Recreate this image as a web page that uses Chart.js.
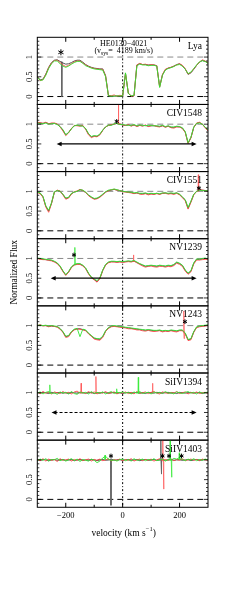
<!DOCTYPE html>
<html>
<head>
<meta charset="utf-8">
<script src="https://cdn.jsdelivr.net/npm/chart.js"></script>
<style>
  body { margin: 0; background: #fff; }
  #wrap { position: relative; width: 245px; height: 611px; }
  #wrap canvas { position: absolute; left: 0; top: 0; }
</style>
</head>
<body>
<div id="wrap"></div>
<script>
// velocity grid (km/s), shared by every panel
const velocity = [
  -300,-290,-280,-270,-260,-250,-240,-230,-220,-210,
  -200,-190,-180,-170,-160,-150,-140,-130,-120,-110,
  -100,-90,-80,-70,-60,-50,-40,-30,-20,-10,
  0,10,20,30,40,50,60,70,80,90,
  100,110,120,130,140,150,160,170,180,190,
  200,210,220,230,240,250,260,270,280,290,
  300];

const lyaRed = [
  0.50,0.40,0.43,0.56,0.73,0.85,0.91,0.92,0.86,0.80,
  0.76,0.79,0.83,0.88,0.90,0.90,0.85,0.80,0.76,0.73,
  0.71,0.70,0.69,0.69,0.52,0.03,0.02,0.04,0.01,0.03,
  0.02,0.58,0.09,0.01,0.02,0.80,0.84,0.81,0.82,0.79,
  0.81,0.80,0.78,0.24,0.56,0.69,0.72,0.74,0.77,0.80,
  0.83,0.79,0.70,0.57,0.61,0.70,0.79,0.87,0.93,0.90,
  0.85];
const lyaGreen = [
  0.49,0.41,0.42,0.54,0.71,0.83,0.90,0.90,0.83,0.77,
  0.74,0.77,0.82,0.86,0.89,0.89,0.84,0.78,0.75,0.72,
  0.70,0.69,0.68,0.67,0.50,0.02,0.01,0.01,0.02,0.01,
  0.02,0.60,0.08,0.02,0.03,0.78,0.82,0.80,0.80,0.78,
  0.79,0.79,0.77,0.23,0.54,0.67,0.71,0.73,0.76,0.80,
  0.81,0.77,0.69,0.58,0.62,0.71,0.80,0.88,0.91,0.89,
  0.84];
const lyaBlack = [
  0.51,0.42,0.44,0.57,0.74,0.86,0.92,0.93,0.89,0.85,
  0.82,0.83,0.86,0.90,0.92,0.92,0.87,0.81,0.77,0.74,
  0.72,0.71,0.70,0.70,0.53,0.02,0.01,0.01,0.01,0.01,
  0.01,0.59,0.08,0.01,0.02,0.80,0.83,0.81,0.81,0.80,
  0.80,0.80,0.78,0.25,0.55,0.68,0.72,0.74,0.77,0.81,
  0.83,0.78,0.70,0.56,0.60,0.69,0.79,0.87,0.91,0.89,
  0.85];

const civ1548Red = [
  1.05,1.04,1.02,1.05,1.01,1.03,1.03,1.01,0.93,0.83,
  0.71,0.78,0.89,0.97,0.96,0.95,0.97,0.87,0.73,0.66,
  0.69,0.68,0.73,0.84,0.93,0.97,0.99,1.00,1.03,1.01,
  0.98,0.97,0.99,0.95,0.98,0.94,0.97,0.95,0.98,0.94,
  0.96,0.97,0.94,0.93,0.96,0.92,0.95,0.91,0.90,0.93,
  0.93,0.89,0.79,0.51,0.65,0.92,1.03,1.05,1.00,0.91,
  0.83];
const civ1548Green = [
  1.03,1.02,1.01,1.03,1.00,1.01,1.02,0.99,0.94,0.86,
  0.73,0.79,0.88,0.96,0.98,0.96,0.95,0.89,0.76,0.69,
  0.71,0.70,0.75,0.85,0.93,0.98,0.97,1.01,1.02,0.99,
  0.99,0.98,0.97,0.97,0.99,0.96,0.98,0.97,0.96,0.97,
  0.97,0.96,0.96,0.95,0.97,0.94,0.96,0.93,0.93,0.95,
  0.94,0.91,0.81,0.53,0.67,0.93,1.02,1.03,1.00,0.93,
  0.85];
const civ1548Black = [
  1.04,1.03,1.02,1.04,1.01,1.02,1.02,1.00,0.94,0.85,
  0.73,0.79,0.89,0.96,0.97,0.96,0.96,0.88,0.75,0.68,
  0.70,0.69,0.74,0.85,0.93,0.97,0.98,1.00,1.02,1.00,
  0.98,0.97,0.98,0.96,0.98,0.95,0.97,0.96,0.97,0.95,
  0.96,0.96,0.95,0.94,0.96,0.93,0.95,0.92,0.92,0.94,
  0.93,0.90,0.80,0.52,0.66,0.92,1.02,1.04,1.00,0.92,
  0.84];

const civ1551Red = [
  0.97,0.94,0.85,0.60,0.47,0.69,0.97,1.03,1.01,0.91,
  0.80,0.83,0.93,0.99,1.01,1.05,1.02,0.97,0.89,0.84,
  0.80,0.81,0.85,0.91,0.98,1.01,1.04,1.05,1.03,1.02,
  0.99,0.98,0.97,0.96,0.94,0.96,0.93,0.92,0.94,0.91,
  0.93,0.92,0.94,0.92,0.95,0.95,0.93,0.94,0.92,0.95,
  0.91,0.84,0.76,0.55,0.72,0.91,1.00,1.05,1.03,1.02,
  1.00];
const civ1551Green = [
  0.98,0.96,0.87,0.63,0.52,0.71,0.99,1.02,1.00,0.93,
  0.83,0.85,0.95,0.98,1.00,1.04,1.03,0.98,0.91,0.86,
  0.82,0.83,0.87,0.93,0.99,1.03,1.04,1.06,1.04,1.02,
  1.00,0.99,0.98,0.98,0.96,0.97,0.95,0.95,0.96,0.94,
  0.95,0.94,0.95,0.94,0.96,0.96,0.95,0.96,0.95,0.96,
  0.93,0.86,0.79,0.59,0.75,0.93,1.00,1.03,1.02,1.02,
  1.01];
const civ1551Black = [
  0.98,0.95,0.86,0.62,0.50,0.70,0.98,1.02,1.00,0.92,
  0.82,0.84,0.94,0.98,1.00,1.04,1.02,0.97,0.90,0.85,
  0.81,0.82,0.86,0.92,0.98,1.02,1.03,1.05,1.03,1.02,
  1.00,0.99,0.98,0.97,0.95,0.96,0.94,0.94,0.95,0.93,
  0.94,0.93,0.95,0.93,0.95,0.96,0.94,0.95,0.94,0.96,
  0.92,0.85,0.78,0.57,0.74,0.92,1.00,1.04,1.03,1.02,
  1.01];

const nv1239Red = [
  1.00,0.98,0.97,0.97,0.95,0.94,0.91,0.87,0.79,0.67,
  0.57,0.65,0.77,0.83,0.85,0.85,0.81,0.74,0.61,0.51,
  0.46,0.40,0.49,0.69,0.83,0.89,0.91,0.91,0.90,0.91,
  0.90,0.91,0.92,0.91,0.93,0.89,0.85,0.81,0.78,0.80,
  0.81,0.79,0.78,0.80,0.80,0.78,0.80,0.79,0.82,0.88,
  0.85,0.80,0.68,0.60,0.66,0.86,0.96,0.96,0.97,0.98,
  0.97];
const nv1239Green = [
  1.01,1.00,0.99,0.98,0.97,0.96,0.93,0.89,0.81,0.69,
  0.59,0.67,0.79,0.85,0.87,0.87,0.83,0.76,0.63,0.53,
  0.48,0.44,0.51,0.71,0.85,0.91,0.93,0.93,0.92,0.93,
  0.92,0.93,0.94,0.93,0.95,0.91,0.87,0.84,0.81,0.82,
  0.83,0.82,0.81,0.83,0.82,0.81,0.83,0.82,0.85,0.91,
  0.88,0.83,0.71,0.63,0.69,0.89,0.99,0.98,1.00,1.01,
  0.99];
const nv1239Black = [
  1.00,0.99,0.98,0.97,0.96,0.95,0.92,0.88,0.80,0.68,
  0.58,0.66,0.78,0.84,0.86,0.86,0.82,0.75,0.62,0.52,
  0.47,0.41,0.50,0.70,0.84,0.90,0.92,0.92,0.91,0.92,
  0.91,0.92,0.93,0.92,0.94,0.90,0.86,0.83,0.80,0.81,
  0.82,0.81,0.80,0.82,0.81,0.80,0.82,0.81,0.84,0.90,
  0.87,0.82,0.70,0.62,0.68,0.88,0.98,0.97,0.99,1.00,
  0.98];

const nv1243Red = [
  1.00,1.02,0.99,1.00,0.97,0.99,0.98,0.96,0.91,0.83,
  0.70,0.72,0.83,0.89,0.91,0.91,0.89,0.87,0.79,0.73,
  0.66,0.64,0.63,0.70,0.85,0.93,0.97,0.98,0.97,0.96,
  0.95,0.94,0.92,0.92,0.91,0.89,0.89,0.87,0.86,0.88,
  0.86,0.85,0.86,0.87,0.84,0.86,0.85,0.87,0.85,0.84,
  0.87,0.87,0.79,0.62,0.64,0.83,0.95,0.97,0.98,0.99,
  1.00];
const nv1243Green = [
  1.01,1.01,1.00,1.01,0.99,1.00,0.99,0.98,0.93,0.85,
  0.73,0.75,0.85,0.91,0.93,0.72,0.91,0.89,0.81,0.75,
  0.69,0.67,0.67,0.73,0.87,0.95,0.99,1.00,0.99,0.98,
  0.97,0.96,0.95,0.94,0.93,0.92,0.91,0.90,0.89,0.90,
  0.89,0.88,0.88,0.89,0.87,0.88,0.87,0.89,0.88,0.87,
  0.89,0.89,0.81,0.65,0.67,0.85,0.97,0.99,1.00,1.01,
  1.02];
const nv1243Black = [
  1.00,1.01,1.00,1.00,0.98,0.99,0.98,0.97,0.92,0.84,
  0.72,0.74,0.84,0.90,0.92,0.92,0.90,0.88,0.80,0.74,
  0.68,0.66,0.65,0.72,0.86,0.94,0.98,0.99,0.98,0.97,
  0.96,0.95,0.94,0.93,0.92,0.91,0.90,0.89,0.88,0.89,
  0.88,0.87,0.87,0.88,0.86,0.87,0.86,0.88,0.87,0.86,
  0.88,0.88,0.80,0.64,0.66,0.84,0.96,0.98,0.99,1.00,
  1.01];

const siiv1394Red = [
  1.02,0.98,1.03,0.99,1.01,0.97,1.02,1.00,0.98,1.03,
  0.99,1.01,0.97,1.02,1.04,0.99,1.01,0.98,1.03,0.99,
  1.02,0.97,1.01,0.99,1.03,0.98,1.00,1.02,0.97,1.01,
  0.99,1.02,0.98,1.01,0.97,1.03,0.99,1.00,1.02,0.98,
  1.01,1.03,0.99,0.97,1.02,1.00,0.98,1.01,0.99,1.03,
  0.98,1.00,1.02,0.97,1.01,0.99,1.02,0.98,1.00,1.01,
  0.99];
const siiv1394Green = [
  0.99,1.02,0.97,1.01,1.03,0.98,1.00,0.96,1.02,0.99,
  1.01,0.97,1.03,0.98,0.96,1.02,0.99,1.01,0.97,1.03,
  0.98,1.01,0.99,1.02,0.97,1.00,1.03,0.98,1.01,1.00,
  1.02,0.99,1.01,0.97,1.02,0.99,1.03,0.98,1.00,1.01,
  0.97,1.02,0.99,1.01,0.98,1.03,0.99,1.00,0.97,1.02,
  1.00,0.98,1.01,1.03,0.99,1.01,0.97,1.02,0.99,1.00,
  1.02];
const siiv1394Black = [
  1.00,0.99,1.01,1.00,0.98,1.01,0.99,1.00,1.01,0.99,
  1.00,0.98,1.01,1.00,0.99,1.01,1.00,0.99,1.00,1.01,
  0.98,1.00,0.99,1.01,1.00,0.99,1.00,1.01,0.99,1.00,
  0.98,1.00,1.01,0.99,1.00,1.01,0.99,1.00,0.98,1.01,
  1.00,0.99,1.01,1.00,0.99,1.00,1.01,0.99,1.00,0.98,
  1.01,1.00,0.99,1.00,1.01,0.99,1.00,1.01,0.98,1.00,
  0.99];

const siiv1403Red = [
  1.01,0.98,1.03,0.97,1.02,0.99,1.01,0.96,1.03,0.99,
  1.00,1.02,0.97,1.01,0.99,1.03,0.98,1.00,1.02,0.97,
  1.01,0.99,1.02,0.98,1.00,1.03,0.97,1.01,0.99,1.02,
  0.98,1.01,0.99,1.03,0.97,1.00,1.02,0.98,1.01,0.99,
  1.02,0.97,1.00,1.03,0.98,1.01,0.99,1.02,0.98,1.01,
  0.99,1.03,0.98,1.00,1.02,0.99,1.01,0.98,1.02,1.00,
  0.99];
const siiv1403Green = [
  0.98,1.02,0.99,1.03,0.97,1.01,1.00,1.04,0.98,1.01,
  0.97,1.00,1.03,0.98,1.02,0.96,1.01,0.99,0.97,1.02,
  0.99,0.93,0.97,1.05,1.09,1.02,0.98,1.00,0.97,1.01,
  1.02,0.98,1.01,0.97,1.03,0.99,1.00,1.02,0.98,1.01,
  0.99,1.03,0.98,1.00,1.02,0.97,1.01,0.99,1.04,1.02,
  1.06,1.01,0.98,1.02,0.99,1.03,0.98,1.01,0.99,1.02,
  1.00];
const siiv1403Black = [
  1.00,0.99,1.01,1.00,0.98,1.00,1.01,0.99,1.00,1.01,
  0.99,1.00,1.01,0.98,1.00,1.01,0.99,1.00,0.99,1.01,
  1.00,0.98,1.00,1.01,0.99,1.00,1.02,0.99,1.00,1.01,
  0.99,1.00,1.01,0.99,1.00,1.01,0.98,1.00,1.01,0.99,
  1.00,1.01,0.99,1.00,1.01,0.99,1.00,1.02,0.99,1.00,
  1.01,0.99,1.00,1.01,0.98,1.00,1.01,0.99,1.00,1.01,
  1.00];

// narrow features: [velocity, continuum, tip, series]
const lyaSpikes = [[-214, 0.88, 0.0, 'k']];
const civ1548Spikes = [[-15, 1.0, 1.75, 'r']];
const civ1551Spikes = [[266, 1.0, 1.42, 'r']];
const nv1239Spikes = [[-168, 0.84, 1.28, 'g'], [38, 0.93, 1.09, 'r']];
const nv1243Spikes = [[215, 0.88, 1.37, 'r'], [216, 0.88, 0.67, 'r']];
const siiv1394Spikes = [[-256, 0.98, 1.20, 'g'], [-146, 0.99, 1.24, 'r'], [-94, 0.98, 1.41, 'r'],
  [-21, 0.99, 1.10, 'g'], [55, 0.98, 1.39, 'g'], [105, 0.99, 1.24, 'r']];
const siiv1403Spikes = [[-41, 1.0, -0.15, 'k'], [134, 1.0, 1.6, 'k'], [136, 1.0, 0.64, 'k'],
  [141, 1.0, 1.6, 'r'], [144, 1.0, 0.26, 'r'], [167, 1.0, 1.6, 'g'], [172, 1.0, 0.56, 'g'],
  [199, 1.0, 1.18, 'g'], [-62, 1.0, 1.12, 'g']];

// star marks [velocity, flux]
const lyaStars = [[-217, 1.12]];
const civ1548Stars = [[-21, 1.07]];
const civ1551Stars = [[268, 1.08]];
const nv1239Stars = [[-171, 1.09]];
const nv1243Stars = [[219, 1.1]];
const siiv1403Stars = [[-41, 1.1], [140, 1.1], [163, 1.1], [207, 1.1]];

const panelLabels = ['Lya', 'CIV1548', 'CIV1551', 'NV1239', 'NV1243', 'SiIV1394', 'SiIV1403'];
const xTickLabels = [-200, 0, 200];
const yTickLabels = [0, 0.5, 1];

const panels = [
  { red: lyaRed, green: lyaGreen, black: lyaBlack, spikes: lyaSpikes, stars: lyaStars, arrow: null },
  { red: civ1548Red, green: civ1548Green, black: civ1548Black, spikes: civ1548Spikes, stars: civ1548Stars, arrow: [-232, 260, 0.5, false] },
  { red: civ1551Red, green: civ1551Green, black: civ1551Black, spikes: civ1551Spikes, stars: civ1551Stars, arrow: null },
  { red: nv1239Red, green: nv1239Green, black: nv1239Black, spikes: nv1239Spikes, stars: nv1239Stars, arrow: [-253, 260, 0.5, false] },
  { red: nv1243Red, green: nv1243Green, black: nv1243Black, spikes: nv1243Spikes, stars: nv1243Stars, arrow: null },
  { red: siiv1394Red, green: siiv1394Green, black: siiv1394Black, spikes: siiv1394Spikes, stars: [], arrow: [-250, 260, 0.5, true] },
  { red: siiv1403Red, green: siiv1403Green, black: siiv1403Black, spikes: siiv1403Spikes, stars: siiv1403Stars, arrow: null }
];

const W = 245, H = 611;
const plotLeft = 37.3, plotRight = 208, plotTop = 37.3, panelH = 67.14;
const SERIF = '"Liberation Serif", "DejaVu Serif", serif';
const colors = { r: 'rgba(255,60,60,0.85)', g: 'rgba(50,230,50,0.9)', k: '#555' };
const spikeColors = { r: 'rgba(255,90,90,0.75)', g: 'rgba(60,235,60,0.8)', k: '#666' };
const orders = { g: 0, r: 1, k: 2 };

function line(ctx, x1, y1, x2, y2) {
  ctx.beginPath(); ctx.moveTo(x1, y1); ctx.lineTo(x2, y2); ctx.stroke();
}

function star(ctx, cx, cy, r) {
  ctx.save();
  ctx.strokeStyle = '#000';
  ctx.lineWidth = 1;
  for (let k = 0; k < 3; k++) {
    const ang = Math.PI / 2 + k * Math.PI / 3;
    line(ctx, cx - r * Math.cos(ang), cy - r * Math.sin(ang), cx + r * Math.cos(ang), cy + r * Math.sin(ang));
  }
  ctx.restore();
}

function arrow(ctx, x1, x2, yp, dashed) {
  ctx.save();
  ctx.strokeStyle = '#000'; ctx.fillStyle = '#000'; ctx.lineWidth = 1.2;
  ctx.setLineDash(dashed ? [3, 2] : []);
  line(ctx, x1 + 3, yp, x2 - 3, yp);
  ctx.setLineDash([]);
  [[x1, 1], [x2, -1]].forEach(([xx, d]) => {
    ctx.beginPath();
    ctx.moveTo(xx, yp);
    ctx.lineTo(xx + d * 5, yp - 2.3);
    ctx.lineTo(xx + d * 5, yp + 2.3);
    ctx.closePath(); ctx.fill();
  });
  ctx.restore();
}

function panelPlugin(p, idx) {
  return {
    id: 'panel' + idx,
    beforeDatasetsDraw(chart) {
      const { ctx, chartArea: a, scales: { x, y } } = chart;
      ctx.save();
      ctx.lineWidth = 1;
      ctx.setLineDash([6, 4]);
      ctx.strokeStyle = '#8a8a8a';
      line(ctx, a.left, y.getPixelForValue(1), a.right, y.getPixelForValue(1));
      ctx.strokeStyle = '#000';
      line(ctx, a.left, y.getPixelForValue(0), a.right, y.getPixelForValue(0));
      ctx.setLineDash([2, 2, 1, 2]);
      line(ctx, x.getPixelForValue(0), a.top, x.getPixelForValue(0), a.bottom);
      ctx.restore();
    },
    afterDatasetsDraw(chart) {
      const { ctx, chartArea: a, scales: { x, y } } = chart;
      ctx.save();
      ctx.strokeStyle = '#000';
      ctx.fillStyle = '#000';
      ctx.lineWidth = 1;
      ctx.strokeRect(a.left, a.top, a.width, a.height);

      // x ticks, inward on top and bottom
      [-200, -100, 0, 100, 200].forEach(v => {
        const px = x.getPixelForValue(v);
        const len = v % 200 === 0 ? 4.5 : 2.5;
        line(ctx, px, a.top, px, a.top + len);
        line(ctx, px, a.bottom, px, a.bottom - len);
      });
      // y ticks every 0.1, major at 0, 0.5, 1
      ctx.lineWidth = 0.8;
      for (let k = -1; k <= 14; k++) {
        const py = y.getPixelForValue(k / 10);
        const len = k % 5 === 0 ? 4 : 2;
        line(ctx, a.left, py, a.left + len, py);
        line(ctx, a.right, py, a.right - len, py);
      }

      // y tick labels, rotated
      ctx.font = '8.5px ' + SERIF;
      ctx.textAlign = 'center';
      ctx.textBaseline = 'middle';
      yTickLabels.forEach(v => {
        ctx.save();
        ctx.translate(29.5, y.getPixelForValue(v));
        ctx.rotate(-Math.PI / 2);
        ctx.fillText(String(v), 0, 0);
        ctx.restore();
      });

      // panel label
      ctx.font = '9.5px ' + SERIF;
      ctx.textAlign = 'right';
      ctx.fillText(panelLabels[idx], a.right - 6, a.top + 9);

      // star marks
      p.stars.forEach(([v, f]) => {
        star(ctx, x.getPixelForValue(v), y.getPixelForValue(f), idx === 0 ? 3 : 2.3);
      });

      if (p.arrow) {
        const [v1, v2, f, dashed] = p.arrow;
        arrow(ctx, x.getPixelForValue(v1), x.getPixelForValue(v2), y.getPixelForValue(f), dashed);
      }

      if (idx === 0) {
        const cx = x.getPixelForValue(0) + 1;
        ctx.font = '8px ' + SERIF;
        ctx.textAlign = 'center';
        ctx.fillText('HE0130\u22124021', cx, a.top + 6.5);
        const parts = [['(v', '8px', 0], ['sys', '5.5px', 2], ['=  4189 km/s)', '8px', 0]];
        let total = 0;
        parts.forEach(([t, s]) => { ctx.font = s + ' ' + SERIF; total += ctx.measureText(t).width; });
        let xx = cx - total / 2;
        ctx.textAlign = 'left';
        parts.forEach(([t, s, dy]) => {
          ctx.font = s + ' ' + SERIF;
          ctx.fillText(t, xx, a.top + 14 + dy);
          xx += ctx.measureText(t).width;
        });
      }

      if (idx === panels.length - 1) {
        ctx.font = '8.5px ' + SERIF;
        ctx.textAlign = 'center';
        xTickLabels.forEach(v => {
          ctx.fillText(v < 0 ? '\u2212' + Math.abs(v) : String(v), x.getPixelForValue(v), a.bottom + 8);
        });
        // x title with superscript
        const parts = [['velocity (km s', '9.5px', 0], ['\u22121', '6.5px', -3.5], [')', '9.5px', 0]];
        let total = 0;
        parts.forEach(([t, s]) => { ctx.font = s + ' ' + SERIF; total += ctx.measureText(t).width; });
        let xx = (a.left + a.right) / 2 + 1 - total / 2;
        ctx.textAlign = 'left';
        parts.forEach(([t, s, dy]) => {
          ctx.font = s + ' ' + SERIF;
          ctx.fillText(t, xx, 533 + dy);
          xx += ctx.measureText(t).width;
        });
        // y title
        ctx.save();
        ctx.font = '9.5px ' + SERIF;
        ctx.textAlign = 'center';
        ctx.translate(14, (plotTop + plotTop + panelH * panels.length) / 2);
        ctx.rotate(-Math.PI / 2);
        ctx.fillText('Normalized Flux', 0, 0);
        ctx.restore();
      }
      ctx.restore();
    }
  };
}

const wrap = document.getElementById('wrap');
panels.forEach((p, idx) => {
  const canvas = document.createElement('canvas');
  canvas.width = W; canvas.height = H;
  canvas.style.width = W + 'px'; canvas.style.height = H + 'px';
  wrap.appendChild(canvas);

  const top = plotTop + idx * panelH;
  const bottom = top + panelH;
  const pts = vals => velocity.map((v, i) => ({ x: v, y: vals[i] }));
  const base = { pointRadius: 0, borderWidth: 1, tension: 0, fill: false, clip: 0 };

  const datasets = [
    Object.assign({ data: pts(p.black), borderColor: colors.k, order: orders.k }, base),
    Object.assign({ data: pts(p.red), borderColor: colors.r, order: orders.r }, base),
    Object.assign({ data: pts(p.green), borderColor: colors.g, order: orders.g }, base)
  ];
  p.spikes.forEach(([v, cont, tip, c]) => {
    datasets.push(Object.assign({
      data: [{ x: v - 1.2, y: cont }, { x: v, y: tip }, { x: v + 1.2, y: cont }],
      borderColor: spikeColors[c], order: orders[c]
    }, base));
  });

  new Chart(canvas, {
    type: 'line',
    data: { datasets },
    options: {
      responsive: false,
      devicePixelRatio: 1,
      animation: false,
      events: [],
      layout: { padding: { left: plotLeft, right: W - plotRight, top: top, bottom: H - bottom } },
      plugins: { legend: { display: false }, tooltip: { enabled: false } },
      scales: {
        x: { type: 'linear', min: -300, max: 300, display: false },
        y: { type: 'linear', min: -0.2, max: 1.5, display: false }
      }
    },
    plugins: [panelPlugin(p, idx)]
  });
});
</script>
</body>
</html>
